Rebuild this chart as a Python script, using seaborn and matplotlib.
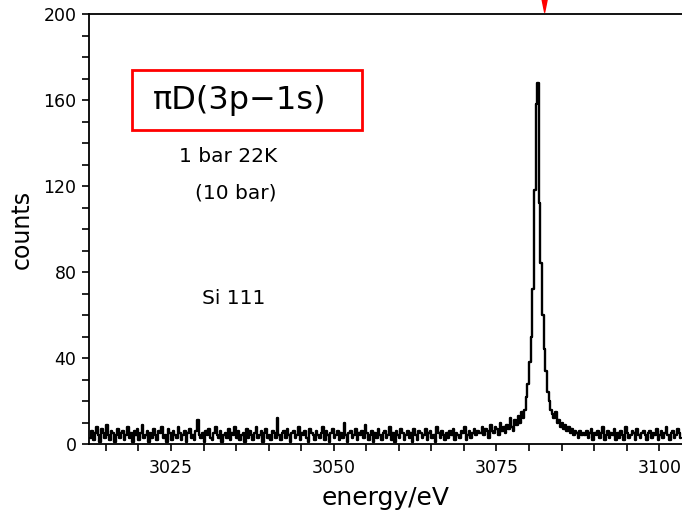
#Importing libraries
import numpy as np
import pandas as pd
import matplotlib
matplotlib.use("Agg")
import matplotlib.pyplot as plt
from matplotlib.patches import Rectangle
from matplotlib.ticker import MultipleLocator
import seaborn as sns

#Spectrum binning (0.25 eV bins from 3012.5 eV)
StartEnergy = 3012.5
BinWidth = 0.25

#Counts, left background 3012.5-3072.5 eV
BackgroundLeft = [
    3, 6, 2, 5, 8, 4, 1, 7, 5, 3, 9, 4, 2, 6, 5, 1, 4, 7, 3, 5,
    6, 2, 4, 8, 3, 5, 1, 6, 4, 7, 2, 5, 9, 3, 4, 6, 1, 5, 3, 7,
    4, 2, 6, 5, 8, 3, 4, 1, 7, 5, 2, 6, 4, 3, 8, 5, 2, 4, 6, 1,
    5, 7, 3, 4, 2, 6, 11, 4, 3, 5, 1, 6, 4, 7, 3, 2, 5, 8, 4, 3,
    6, 1, 4, 5, 3, 7, 2, 5, 4, 8, 3, 6, 2, 4, 5, 1, 7, 3, 6, 4,
    2, 5, 8, 3, 4, 6, 1, 5, 7, 3, 4, 2, 6, 5, 3, 12, 4, 2, 5, 6,
    3, 7, 4, 1, 5, 6, 3, 4, 8, 2, 5, 4, 6, 3, 1, 7, 5, 4, 2, 6,
    4, 3, 5, 8, 2, 6, 4, 1, 5, 7, 3, 4, 6, 2, 5, 3, 10, 4, 1, 5,
    6, 3, 4, 7, 2, 5, 4, 6, 3, 9, 5, 2, 4, 6, 1, 5, 3, 7, 4, 2,
    5, 6, 3, 4, 8, 2, 5, 1, 6, 4, 3, 7, 5, 2, 4, 6, 3, 5, 1, 7,
    4, 2, 6, 5, 3, 4, 7, 2, 5, 6, 3, 4, 1, 8, 5, 3, 6, 4, 2, 5,
    3, 6, 4, 7, 2, 5, 4, 3, 6, 5, 8, 2, 4, 6, 3, 5, 7, 4, 6, 5,
]

#Counts around the line, 3072.5-3088.5 eV
PeakRegion = [
    5, 8, 4, 7, 6, 3, 9, 6,
    5, 8, 7, 4, 10, 6, 8, 5,
    9, 7, 12, 8, 6, 11, 9, 13,
    10, 15, 12, 16,
    22, 28, 38, 50,
    72, 118, 158, 168,
    112, 84, 60, 44,
    34, 24, 20, 16,
    14, 12, 15, 10,
    11, 8, 10, 7, 9, 6, 8, 5,
    7, 4, 6, 5, 3, 6, 4, 5,
]

#Right background 3088.5-3103.5 eV
BackgroundRight = [
    4, 6, 3, 5, 7, 2, 5, 4, 6, 3, 5, 8, 2, 4, 6, 3, 5, 4, 7, 2,
    5, 3, 6, 4, 2, 8, 5, 3, 4, 6, 5, 2, 7, 4, 3, 5, 6, 4, 2, 5,
    6, 3, 5, 4, 7, 2, 4, 6, 3, 5, 8, 4, 2, 5, 6, 3, 4, 7, 5, 3,
]

#Text on the chart
TitleText = "\u03c0D(3p\u22121s)"
ConditionLine1 = "1 bar 22K"
ConditionLine2 = "(10 bar)"
CrystalText = "Si 111"
XTicks = [3025, 3050, 3075, 3100]
YTicks = [0, 40, 80, 120, 160, 200]
ArrowEnergy = 3082.4

#Building the data frame
Counts = BackgroundLeft + PeakRegion + BackgroundRight
Energy = StartEnergy + BinWidth * (np.arange(len(Counts)) + 0.5)
DataFrame = pd.DataFrame({"energy": Energy, "counts": Counts})

#Style
sns.set_style("ticks")
plt.rcParams["font.family"] = ["DejaVu Sans"]
plt.rcParams["text.color"] = "black"
plt.rcParams["axes.labelcolor"] = "black"
plt.rcParams["xtick.color"] = "black"
plt.rcParams["ytick.color"] = "black"

fig = plt.figure(figsize=(6.82, 5.18), dpi=100)
ax = fig.add_axes([89 / 682, 74 / 518, 1 - 89 / 682, 430 / 518])

#Plotting the spectrum as steps
sns.lineplot(data=DataFrame, x="energy", y="counts", ax=ax, color="black",
             linewidth=1.7, drawstyle="steps-mid", errorbar=None)

ax.set_xlim(3012.4, 3103.5)
ax.set_ylim(0, 200)
ax.set_xticks(XTicks)
ax.set_yticks(YTicks)
ax.xaxis.set_minor_locator(MultipleLocator(5))
ax.yaxis.set_minor_locator(MultipleLocator(10))
ax.tick_params(which="both", direction="out", length=5, width=1.2, color="black")
ax.tick_params(axis="both", which="major", labelsize=12.5, pad=4, labelcolor="black")
ax.tick_params(axis="x", which="major", pad=6)
ax.spines["right"].set_visible(False)
for side in ["left", "top", "bottom"]:
    ax.spines[side].set_linewidth(1.3)
    ax.spines[side].set_color("black")

ax.set_xlabel("energy/eV", fontsize=18, labelpad=6, color="black")
ax.set_ylabel("counts", fontsize=17, labelpad=7, color="black")

#Annotations
ax.add_patch(Rectangle((43 / 593, 314 / 430), 230 / 593, 60 / 430, transform=ax.transAxes,
                       fill=False, edgecolor="red", linewidth=2))
ax.text(151 / 593, 344 / 430, TitleText, transform=ax.transAxes, fontsize=23,
        ha="center", va="center", color="black")
ax.text(139 / 593, 287 / 430, ConditionLine1, transform=ax.transAxes, fontsize=14.5,
        ha="center", va="center", color="black")
ax.text(147 / 593, 251 / 430, ConditionLine2, transform=ax.transAxes, fontsize=14.5,
        ha="center", va="center", color="black")
ax.text(145 / 593, 146 / 430, CrystalText, transform=ax.transAxes, fontsize=14.5,
        ha="center", va="center", color="black")
ax.annotate("", xy=(ArrowEnergy, 1.004), xytext=(ArrowEnergy, 1.05),
            xycoords=("data", "axes fraction"), textcoords=("data", "axes fraction"),
            arrowprops=dict(facecolor="red", edgecolor="red", width=0.5, headwidth=4,
                            headlength=10, shrink=0))

fig.savefig("out.png", dpi=100)
